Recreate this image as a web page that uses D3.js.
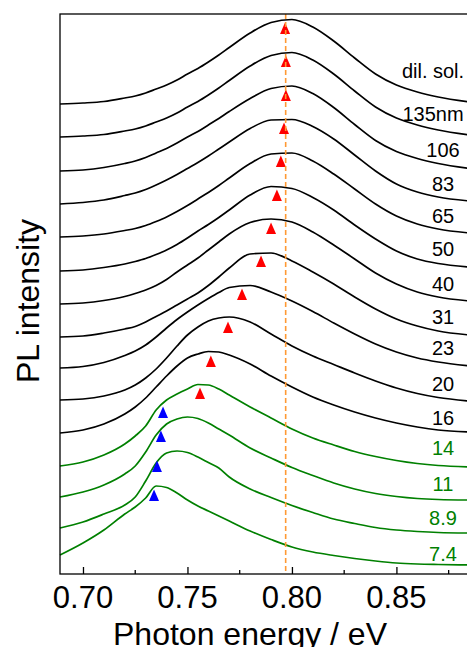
<!DOCTYPE html>
<html>
<head>
<meta charset="utf-8">
<script src="https://cdn.jsdelivr.net/npm/d3@7"></script>
<style>
    body { margin: 0; background: #fff; }
    svg { display: block; font-family: "Liberation Sans", Arial, sans-serif; }
</style>
</head>
<body>
<script>
// photon energy grid (eV) shared by all spectra
var energy = [0.689, 0.70, 0.71, 0.72, 0.725, 0.73, 0.735, 0.74, 0.745, 0.75, 0.755, 0.76, 0.765, 0.77,
              0.78, 0.79, 0.80, 0.81, 0.82, 0.83, 0.84, 0.85, 0.86, 0.87, 0.885];

// film thickness labels, top to bottom
var thickness = ["dil. sol.", "135nm", "106", "83", "65", "50", "40", "31", "23", "20", "16", "14", "11", "8.9", "7.4"];

// stacked PL intensity (a.u., offsets included)
var plDilSol = [470, 471, 472.5, 476, 478, 481, 485, 489, 494, 500, 505.5, 512, 519, 526.5, 541, 551.5, 554.5, 547, 533, 516, 500, 489, 482, 477, 472];
var pl135 = [437, 438, 439.5, 443, 445, 448, 452, 456, 461, 467, 472.5, 479, 486, 493.5, 508, 518.5, 521.5, 514, 500, 483, 467, 456, 449, 444, 439];
var pl106 = [403, 404, 406.5, 410.5, 413, 416.5, 421, 425.5, 431, 437, 442.5, 449, 455.5, 462.5, 475.5, 485.5, 488, 480.5, 466.5, 449.5, 433.5, 422.5, 415.5, 410.5, 405.5];
var pl83 = [370, 371.5, 374, 378.5, 381, 384.5, 389, 394, 399.5, 405.5, 411.5, 418, 425, 432, 445.5, 454, 454.5, 447.5, 435, 419, 403, 390, 382, 377, 373];
var pl65 = [337, 338, 340, 343.5, 345.5, 348.5, 352.5, 357, 362.5, 368.5, 375, 381.5, 388.5, 396, 410.5, 420, 421, 413, 400, 385, 370, 358, 350, 345, 341];
var pl50 = [303, 304, 306.5, 310, 312.5, 315.5, 319.5, 324, 329.5, 336, 343, 349.5, 356.5, 364, 379, 387.5, 385.5, 376.5, 364, 349, 335, 323, 315, 310.5, 307];
var pl40 = [270, 271, 273.5, 277.5, 280.5, 284, 288.5, 294.5, 302, 309, 316, 324, 332, 340, 351.5, 355, 352, 342, 329, 315, 301, 290, 282, 277, 273];
var pl31 = [237, 238, 241, 245, 247.5, 252, 257.5, 263, 269, 275, 281, 288.5, 297, 306, 320, 321, 313, 302, 290, 277, 265, 255, 248, 243, 239];
var pl23 = [206, 207.5, 211.5, 218.5, 223, 229, 237, 246, 254.5, 262, 269, 275.5, 281.5, 286.5, 288.5, 282, 273, 262.5, 251, 240, 230, 222, 216, 212, 208];
var pl20 = [174, 175, 178, 184, 189, 196, 205, 216, 228, 239, 247, 253, 256, 257, 252, 240, 228, 218, 209.5, 201, 193, 186, 180.5, 176.5, 173];
var pl16 = [141, 144, 150, 160, 167, 176, 187, 198, 208, 216, 220, 222.5, 222, 219, 210, 198, 187, 177, 169, 162, 156, 151, 147, 144, 142];
var pl14 = [108, 112, 119, 130, 138, 148, 164, 174, 180, 185, 189.5, 189, 185, 179, 167, 156, 145, 136, 129, 122.5, 117.5, 113.5, 110.5, 108.5, 107];
var pl11 = [77, 82, 89, 100, 108, 122, 139, 150, 155, 157, 155.5, 151, 145, 139, 126, 116, 106.5, 98.5, 91, 85, 80.5, 77.5, 75.5, 74.5, 74];
var pl89 = [46, 52, 60, 69, 77, 93, 111, 121, 123, 121.5, 117, 111.5, 106, 97, 85, 76.5, 68.5, 61.5, 55, 50.5, 46.5, 44, 42.5, 41.5, 41];
var pl74 = [19, 31, 44, 60, 67, 76, 88, 86.5, 81, 74, 68, 63, 58, 53, 43, 34.5, 27, 22, 18.5, 15.5, 13, 11, 10, 9.5, 9];

var spectra = [plDilSol, pl135, pl106, pl83, pl65, pl50, pl40, pl31, pl23, pl20, pl16, pl14, pl11, pl89, pl74];

// where each thickness label sits (same intensity units)
var labelAt = [496, 453, 417, 383, 351, 318, 283, 250, 219, 183, 149, 119, 83, 49, 13];

// peak markers
var redPeakE = [0.7967, 0.7971, 0.7971, 0.7962, 0.7947, 0.7928, 0.7900, 0.7852, 0.7761, 0.7694, 0.7612, 0.7560];
var redPeakI = [545, 512, 478, 445, 412, 378, 345, 312, 279, 246, 212, 180];
var bluePeakE = [0.7383, 0.7373, 0.7354, 0.7340];
var bluePeakI = [161, 137, 107, 78];

var guideEnergy = 0.797;
var xTicks = [0.70, 0.75, 0.80, 0.85];
var xMinorTicks = [0.725, 0.775, 0.825, 0.875];

(function() {
    var width = 467,
        height = 647,
        left = 60,
        top = 14,
        bottom = 574,
        right = 480,   // frame runs past the window edge
        greenFrom = 11;

    var svg = d3.select("body").append("svg")
                .attr("width", width)
                .attr("height", height);

    var x = d3.scaleLinear().domain([0.689, 0.89]).range([left, right]);
    var y = d3.scaleLinear().domain([0, 560]).range([bottom, top]);

    var line = d3.line()
                 .x(function(d) {return x(d[0]); })
                 .y(function(d) {return y(d[1]); })
                 .curve(d3.curveMonotoneX);

    function colorOf(i) {
        return i >= greenFrom ? "#008000" : "#000";
    }

    // spectra
    svg.append("g")
       .selectAll("path")
       .data(spectra)
       .enter()
       .append("path")
       .attr("d", function(s) {return line(energy.map(function(e, j) {return [e, s[j]]; })); })
       .style("fill", "none")
       .style("stroke", function(s, i) {return colorOf(i); })
       .style("stroke-width", 1.7);

    // thickness labels
    svg.append("g")
       .selectAll("text")
       .data(thickness)
       .enter()
       .append("text")
       .attr("x", function(d) {return d.length > 4 ? 433 : 443; })
       .attr("y", function(d, i) {return y(labelAt[i]); })
       .attr("text-anchor", "middle")
       .style("font-size", "20px")
       .style("fill", function(d, i) {return colorOf(i); })
       .text(function(d) {return d; });

    var tri = "M0,-6.5L5,5L-5,5Z";

    svg.append("g")
       .selectAll("path")
       .data(redPeakE)
       .enter()
       .append("path")
       .attr("d", tri)
       .attr("transform", function(d, i) {return "translate(" + x(d) + "," + y(redPeakI[i]) + ")"; })
       .style("fill", "#ff0000");

    svg.append("g")
       .selectAll("path")
       .data(bluePeakE)
       .enter()
       .append("path")
       .attr("d", tri)
       .attr("transform", function(d, i) {return "translate(" + x(d) + "," + y(bluePeakI[i]) + ")"; })
       .style("fill", "#0000ff");

    // dashed guide at the solution peak
    svg.append("line")
       .attr("x1", x(guideEnergy))
       .attr("x2", x(guideEnergy))
       .attr("y1", top)
       .attr("y2", bottom)
       .style("stroke", "#ff9933")
       .style("stroke-width", 1.6)
       .style("stroke-dasharray", "5,3");

    // frame
    svg.append("rect")
       .attr("x", left)
       .attr("y", top)
       .attr("width", right - left)
       .attr("height", bottom - top)
       .style("fill", "none")
       .style("stroke", "#000")
       .style("stroke-width", 1.3);

    // x axis ticks pointing inward, labels drawn separately
    var xAxis = svg.append("g")
                   .attr("transform", "translate(0," + bottom + ")")
                   .call(d3.axisBottom(x)
                           .tickValues(xTicks)
                           .tickSizeInner(-7)
                           .tickSizeOuter(0)
                           .tickFormat(""));
    xAxis.select(".domain").remove();
    xAxis.selectAll("line").style("stroke-width", 1.3);

    svg.append("g")
       .selectAll("text")
       .data(xTicks)
       .enter()
       .append("text")
       .attr("x", function(d) {return x(d); })
       .attr("y", 608)
       .attr("text-anchor", "middle")
       .style("font-size", "31px")
       .text(d3.format(".2f"));

    svg.append("g")
       .selectAll("line")
       .data(xMinorTicks)
       .enter()
       .append("line")
       .attr("x1", function(d) {return x(d); })
       .attr("x2", function(d) {return x(d); })
       .attr("y1", bottom)
       .attr("y2", bottom - 4)
       .style("stroke", "#000")
       .style("stroke-width", 1.3);

    svg.append("text")
       .attr("x", 250)
       .attr("y", 645)
       .attr("text-anchor", "middle")
       .style("font-size", "32px")
       .text("Photon energy / eV");

    svg.append("text")
       .attr("transform", "translate(39,301) rotate(-90)")
       .attr("text-anchor", "middle")
       .style("font-size", "32px")
       .text("PL intensity");
})();
</script>
</body>
</html>
